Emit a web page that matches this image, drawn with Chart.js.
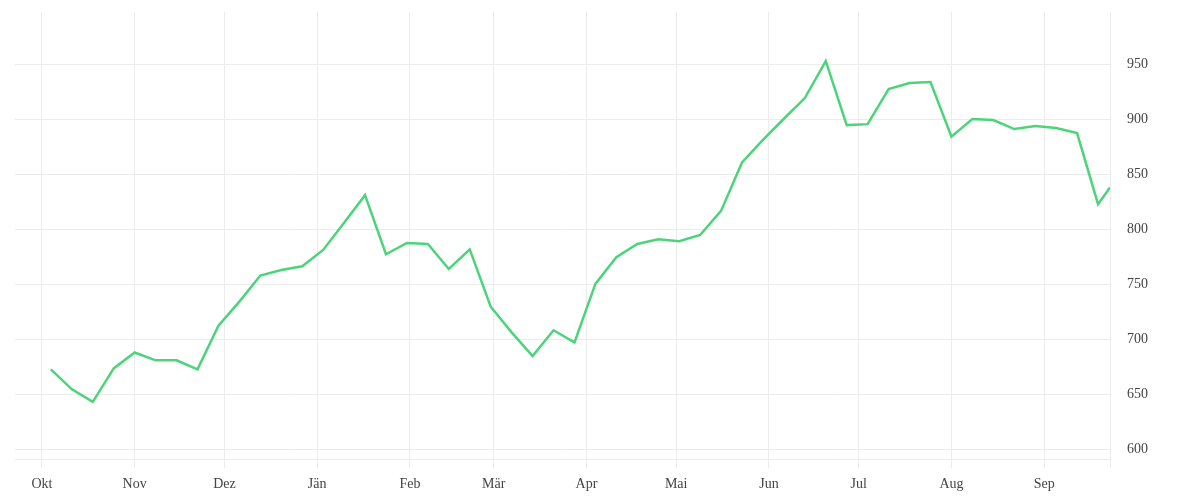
<!DOCTYPE html>
<html>
<head>
<meta charset="utf-8">
<script src="https://cdn.jsdelivr.net/npm/chart.js@4.4.0/dist/chart.umd.min.js"></script>
<style>
  html, body { margin: 0; padding: 0; background: #fff; }
  #wrap { width: 1200px; height: 500px; }
</style>
</head>
<body>
<div id="wrap"><canvas id="myChart"></canvas></div>
<script>
'use strict';

// weekly values, last point is a partial week
const dates = [
  '2020-10-04','2020-10-11','2020-10-18','2020-10-25','2020-11-01','2020-11-08','2020-11-15','2020-11-22','2020-11-29',
  '2020-12-06','2020-12-13','2020-12-20','2020-12-27','2021-01-03','2021-01-10','2021-01-17','2021-01-24','2021-01-31',
  '2021-02-07','2021-02-14','2021-02-21','2021-02-28','2021-03-07','2021-03-14','2021-03-21','2021-03-28',
  '2021-04-04','2021-04-11','2021-04-18','2021-04-25','2021-05-02','2021-05-09','2021-05-16','2021-05-23','2021-05-30',
  '2021-06-06','2021-06-13','2021-06-20','2021-06-27','2021-07-04','2021-07-11','2021-07-18','2021-07-25',
  '2021-08-01','2021-08-08','2021-08-15','2021-08-22','2021-08-29','2021-09-05','2021-09-12','2021-09-19','2021-09-23'
];
const values = [
  672.6, 654.4, 643, 673.5, 688, 680.8, 680.8, 672.6, 712.4,
  734.3, 758, 763, 766.5, 781.4, 806.2, 831.2, 777.4, 787.7,
  786.8, 764, 781.9, 729.7, 706.3, 684.7, 708.2, 697.2,
  750.4, 774.7, 786.8, 791.1, 789.3, 795, 816.9, 861, 881.6,
  900.8, 919.6, 953.3, 895, 895.9, 927.8, 933.3, 934.2,
  884.4, 900.5, 899.6, 891.4, 894.1, 892.3, 887.7, 823, 838.2
];
const monthStarts = ['2020-10-01','2020-11-01','2020-12-01','2021-01-01','2021-02-01','2021-03-01',
  '2021-04-01','2021-05-01','2021-06-01','2021-07-01','2021-08-01','2021-09-01'];
const monthLabels = ['Okt','Nov','Dez','Jän','Feb','Mär','Apr','Mai','Jun','Jul','Aug','Sep'];
const yTicks = [600, 650, 700, 750, 800, 850, 900, 950];
const xStart = '2020-09-22';
const xEnd = '2021-09-23';
const yMin = 591;
const yMax = 998;

const origin = Date.parse('2020-10-01');
function toDay(s){
    return Math.round((Date.parse(s) - origin) / 86400000);
}

let points = [];
for (let i = 0; i < dates.length; i++) {
    points.push({x: toDay(dates[i]), y: values[i]});
}
let monthDays = monthStarts.map(toDay);
const xMin = toDay(xStart);
const xMax = toDay(xEnd);

const gridColor = '#ececec';
const fontFamily = '"Liberation Serif", serif';

let ctx = document.getElementById('myChart').getContext('2d');
let myChart = new Chart(ctx, {
    type: 'line',
    data: {
        datasets: [{
            data: points,
            borderColor: '#4cd47a',
            borderWidth: 2.5,
            pointRadius: 0,
            fill: false,
            tension: 0
        }]
    },
    options: {
        responsive: true,
        maintainAspectRatio: false,
        animation: false,
        layout: { padding: { top: 12, left: 15, right: 0, bottom: 0 } },
        plugins: {
            legend: { display: false },
            tooltip: { enabled: false }
        },
        scales: {
            x: {
                type: 'linear',
                min: xMin,
                max: xMax,
                afterBuildTicks: function(scale){
                    let t = monthDays.map(function(d){ return {value: d}; });
                    t.push({value: xMax});
                    scale.ticks = t;
                },
                afterFit: function(scale){
                    scale.height = 41;
                    scale.paddingLeft = 0;
                    scale.paddingRight = 0;
                },
                grid: { color: gridColor, tickLength: 9, lineWidth: 1 },
                border: { display: true, color: gridColor },
                ticks: {
                    autoSkip: false,
                    maxRotation: 0,
                    padding: 8,
                    color: '#444',
                    font: { family: fontFamily, size: 14 },
                    callback: function(value){
                        let idx = monthDays.indexOf(value);
                        return idx >= 0 ? monthLabels[idx] : '';
                    }
                }
            },
            y: {
                position: 'right',
                min: yMin,
                max: yMax,
                afterBuildTicks: function(scale){
                    scale.ticks = yTicks.map(function(v){ return {value: v}; });
                },
                afterFit: function(scale){
                    scale.width = 90;
                    scale.paddingTop = 0;
                    scale.paddingBottom = 0;
                },
                grid: { color: gridColor, drawTicks: false, lineWidth: 1 },
                border: { display: true, color: gridColor },
                ticks: {
                    padding: 17,
                    color: '#444',
                    font: { family: fontFamily, size: 14 }
                }
            }
        }
    }
});
</script>
</body>
</html>
